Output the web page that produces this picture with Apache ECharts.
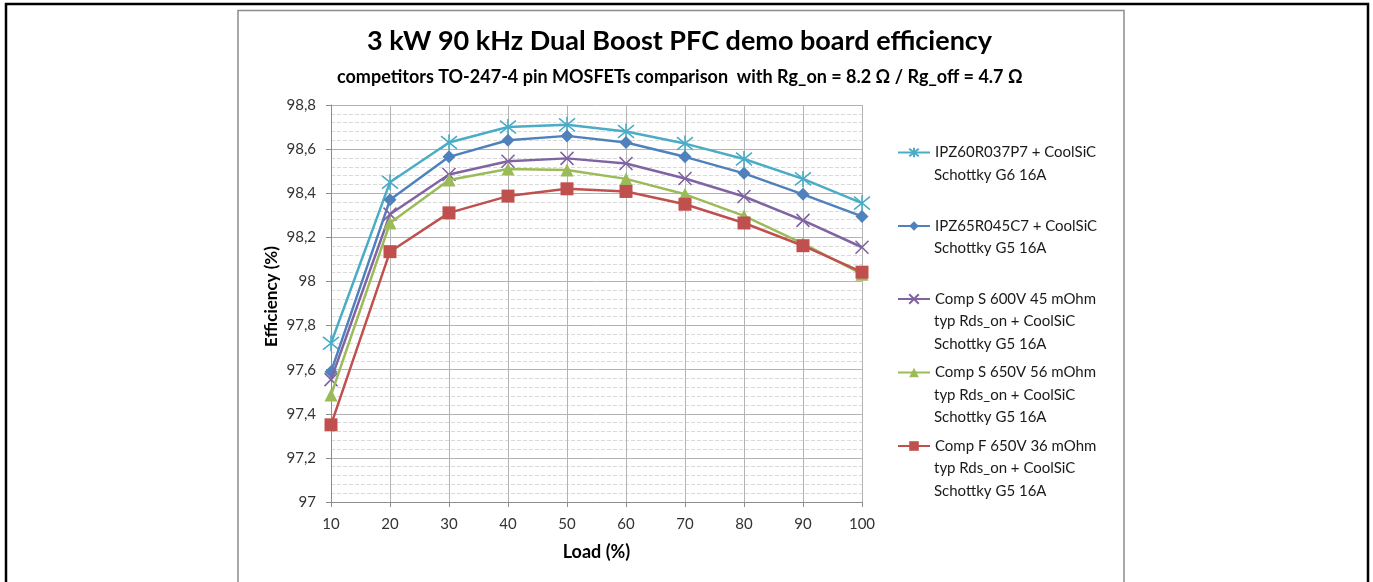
<!DOCTYPE html>
<html>
<head>
<meta charset="utf-8">
<script src="https://cdn.jsdelivr.net/npm/echarts@6/dist/echarts.min.js"></script>
<style>
  html, body { margin: 0; padding: 0; background: #fff; }
  #main { width: 1373px; height: 582px; }
</style>
</head>
<body>
<div id="main"></div>
<script>
// load points (%)
var loads = [10, 20, 30, 40, 50, 60, 70, 80, 90, 100];

var seriesNames = [
  "IPZ60R037P7 + CoolSiC\nSchottky G6 16A",
  "IPZ65R045C7 + CoolSiC\nSchottky G5 16A",
  "Comp S 600V 45 mOhm\ntyp Rds_on + CoolSiC\nSchottky G5 16A",
  "Comp S 650V 56 mOhm\ntyp Rds_on + CoolSiC\nSchottky G5 16A",
  "Comp F 650V 36 mOhm\ntyp Rds_on + CoolSiC\nSchottky G5 16A"
];

// efficiency (%)
var effP7 = [97.72, 98.45, 98.63, 98.70, 98.71, 98.68, 98.625, 98.555, 98.465, 98.355];
var effC7 = [97.59, 98.37, 98.565, 98.64, 98.66, 98.63, 98.565, 98.49, 98.395, 98.295];
var effCompS600 = [97.555, 98.305, 98.485, 98.545, 98.558, 98.535, 98.467, 98.385, 98.277, 98.155];
var effCompS650 = [97.485, 98.265, 98.46, 98.51, 98.505, 98.465, 98.395, 98.297, 98.172, 98.033];
var effCompF650 = [97.35, 98.135, 98.311, 98.387, 98.42, 98.408, 98.35, 98.265, 98.162, 98.042];

var yTicks = { min: 97, max: 98.8, step: 0.2 };

var colors = ["#4BACC6", "#4F81BD", "#8064A2", "#9BBB59", "#C0504D"];
var symbols = [
  "path://M0,-1L0,1M-0.8,-0.8L0.8,0.8M-0.8,0.8L0.8,-0.8",
  "diamond",
  "path://M-1,-1L1,1M-1,1L1,-1",
  "triangle",
  "rect"
];
var symbolSizes = [16, 13, 13, 13, 13];
var allData = [effP7, effC7, effCompS600, effCompS650, effCompF650];
// y of the first line of each legend entry
var legendRows = [152.5, 226, 299, 372.5, 446];

var FONT = "Lato, 'Open Sans', sans-serif";
var LH = 22.5;
var LEGEND_TEXT_X = 934;

var myChart = echarts.init(document.getElementById("main"));

var series = [];
var legends = [];
var extraLines = [];
for (var s = 0; s < allData.length; s++) {
  var pts = [];
  for (var i = 0; i < loads.length; i++) {
    pts.push([loads[i], allData[s][i]]);
  }
  var stroked = symbols[s].indexOf("path://") === 0;
  series.push({
    name: seriesNames[s],
    type: "line",
    data: pts,
    symbol: symbols[s],
    symbolSize: symbolSizes[s],
    showAllSymbol: true,
    lineStyle: { color: colors[s], width: 2.5 },
    itemStyle: {
      color: colors[s],
      borderColor: colors[s],
      borderWidth: stroked ? 1.6 : 0
    },
    emphasis: { disabled: true },
    z: 2 + s
  });
  // legend shows the first line next to the icon, the other lines follow below it
  legends.push({
    data: [seriesNames[s]],
    left: 892,
    top: legendRows[s] - LH / 2 - 5,
    itemWidth: 32,
    itemHeight: 12,
    selectedMode: false,
    formatter: function (name) {
      return name.split("\n")[0];
    },
    textStyle: { fontFamily: FONT, fontSize: 15, color: "#1a1a1a", lineHeight: LH }
  });
  var lines = seriesNames[s].split("\n");
  for (var k = 1; k < lines.length; k++) {
    extraLines.push({
      type: "text",
      x: LEGEND_TEXT_X,
      y: legendRows[s] + k * LH,
      silent: true,
      style: {
        text: lines[k],
        font: "15px " + FONT,
        fill: "#1a1a1a",
        textVerticalAlign: "middle",
        verticalAlign: "middle"
      }
    });
  }
}

var option = {
  backgroundColor: "#fff",
  animation: false,
  textStyle: { fontFamily: FONT },
  graphic: [
    {
      type: "rect",
      shape: { x: 6, y: 4, width: 1362, height: 620 },
      style: { fill: "none", stroke: "#000", lineWidth: 2.5 },
      silent: true
    },
    {
      type: "rect",
      shape: { x: 238, y: 10.5, width: 886, height: 620 },
      style: { fill: "none", stroke: "#8c8c8c", lineWidth: 1.5 },
      silent: true
    }
  ].concat(extraLines),
  title: [
    {
      text: "3 kW 90 kHz Dual Boost PFC demo board efficiency",
      left: 362,
      top: 23,
      padding: 5,
      textStyle: { fontFamily: FONT, fontSize: 27, fontWeight: "bold", color: "#000" }
    },
    {
      text: "competitors TO-247-4 pin MOSFETs comparison  with Rg_on = 8.2 \u03A9 / Rg_off = 4.7 \u03A9",
      left: 332,
      top: 63,
      padding: 5,
      textStyle: { fontFamily: FONT, fontSize: 18, fontWeight: "bold", color: "#000" }
    }
  ],
  legend: legends,
  grid: { left: 331, right: 511, top: 105, bottom: 80, containLabel: false },
  xAxis: {
    type: "value",
    min: 10,
    max: 100,
    interval: 10,
    name: "Load (%)",
    nameLocation: "middle",
    nameGap: 41,
    nameTextStyle: { fontFamily: FONT, fontSize: 18, fontWeight: "bold", color: "#000" },
    axisLine: { show: true, lineStyle: { color: "#8c8c8c", width: 1 } },
    axisTick: { show: true, inside: false, length: 5, lineStyle: { color: "#8c8c8c" } },
    axisLabel: { fontFamily: FONT, fontSize: 15, color: "#333", margin: 15 },
    splitLine: { show: true, lineStyle: { color: "#b3b3b3", width: 1 } }
  },
  yAxis: {
    type: "value",
    min: yTicks.min,
    max: yTicks.max,
    interval: yTicks.step,
    name: "Efficiency (%)",
    nameLocation: "middle",
    nameGap: 51,
    nameTextStyle: {
      fontFamily: FONT, fontSize: 17, fontWeight: "bold", color: "#000",
      padding: [0, 0, 0, 14]
    },
    axisLine: { show: true, lineStyle: { color: "#8c8c8c", width: 1 } },
    axisTick: { show: true, inside: false, length: 5, lineStyle: { color: "#8c8c8c" } },
    axisLabel: {
      fontFamily: FONT,
      fontSize: 15,
      color: "#333",
      margin: 15,
      formatter: function (v) {
        return (Math.round(v * 10) / 10).toString().replace(".", ",");
      }
    },
    splitLine: { show: true, lineStyle: { color: "#b3b3b3", width: 1 } },
    minorTick: { show: false, splitNumber: 5 },
    minorSplitLine: { show: true, lineStyle: { color: "#d9d9d9", width: 1, type: "dashed" } }
  },
  series: series
};

myChart.setOption(option);
</script>
</body>
</html>
